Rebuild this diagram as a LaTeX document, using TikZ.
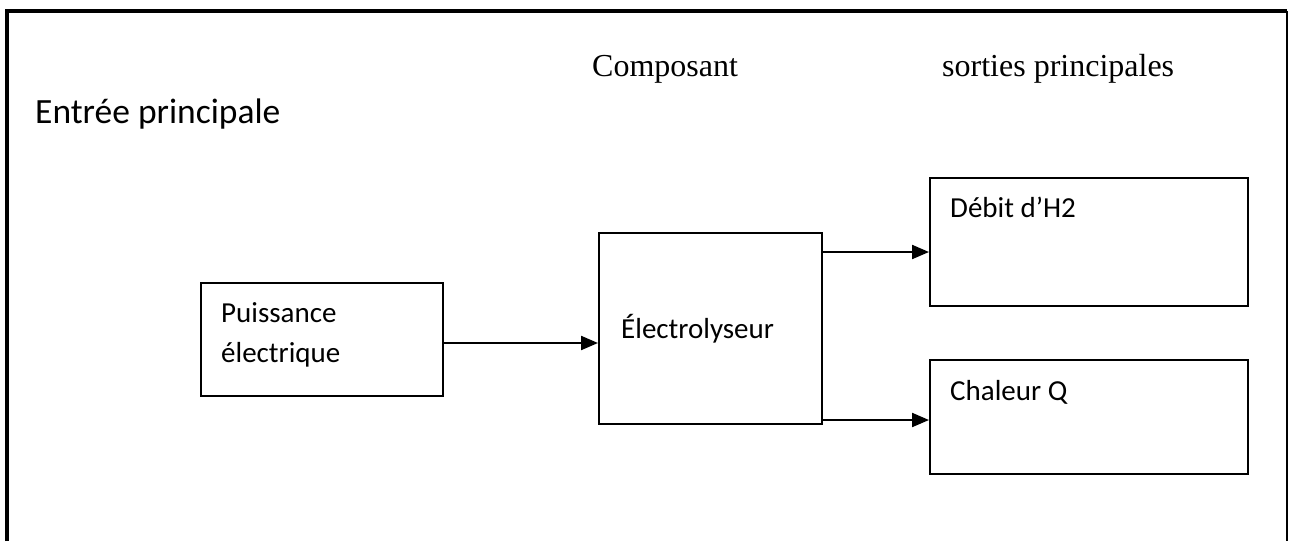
\documentclass[tikz,border=0pt]{standalone}
\usepackage{fontspec}
\setmainfont{Liberation Serif}
\newfontfamily\calib{Carlito}
\usetikzlibrary{arrows.meta}
\tikzset{
  box/.style={draw, line width=2.2pt, inner sep=0pt, anchor=north west},
  arr/.style={line width=2.2pt, -{Triangle[length=17pt,width=14pt]}},
  lbl/.style={font=\calib\fontsize{29}{35}\selectfont, inner sep=0pt, anchor=base west},
  serif/.style={font=\fontsize{32}{38}\selectfont, inner sep=0pt, anchor=base west},
}
\begin{document}
\begin{tikzpicture}[x=1pt,y=-1pt]
\useasboundingbox (0,0) rectangle (1289,541);
\fill[white] (0,0) rectangle (1289,541);
% outer frame
\draw[line width=3.5pt] (7,541) -- (7,11) -- (1287,11);
\draw[line width=2pt] (1287,11) -- (1287,541);
% headings
\node[font=\calib\fontsize{35.5}{42}\selectfont, inner sep=0pt, anchor=base west] (entree) at (35,123) {Entrée principale};
\node[serif] (comp) at (592,76) {Composant};
\node[serif] (sort) at (942,76) {sorties principales};
% boxes
\node[box, minimum width=242pt, minimum height=113pt] (p) at (200,282) {};
\node[box, minimum width=223pt, minimum height=191pt] (e) at (598,232) {};
\node[box, minimum width=318pt, minimum height=128pt] (d) at (929,177) {};
\node[box, minimum width=318pt, minimum height=114pt] (c) at (929,359) {};
% box texts
\node[lbl] (pt1) at (221,322) {Puissance};
\node[lbl] (pt2) at (221,362) {électrique};
\node[lbl] (et) at (621,338) {Électrolyseur};
\node[lbl] (dt) at (950,217) {Débit d’H2};
\node[lbl] (ct) at (950,400) {Chaleur Q};
% connectors
\draw[arr] (p.east |- 0,343) -- (e.west |- 0,343);
\draw[arr] (e.east |- 0,252) -- (d.west |- 0,252);
\draw[arr] (e.east |- 0,420) -- (c.west |- 0,420);
\end{tikzpicture}
\end{document}
